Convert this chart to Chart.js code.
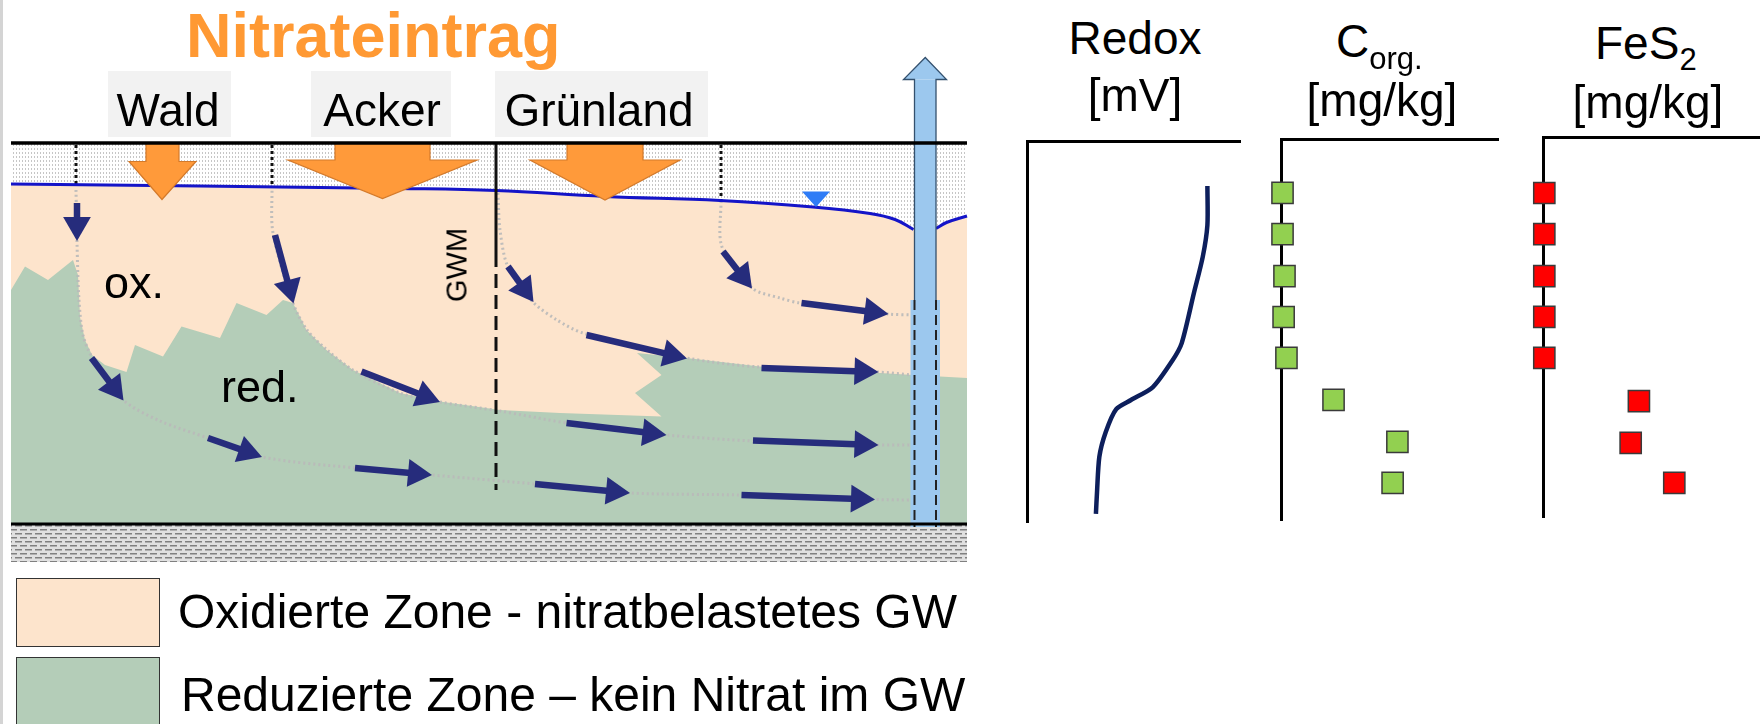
<!DOCTYPE html>
<html lang="de">
<head>
<meta charset="utf-8">
<title>Nitrateintrag – oxidierte und reduzierte Zone im Grundwasser</title>
<script src="https://cdn.jsdelivr.net/npm/chart.js@4.4.1/dist/chart.umd.min.js"></script>
<style>
  html, body { margin: 0; padding: 0; background: #fff; }
  body { width: 1760px; height: 724px; position: relative; overflow: hidden;
         font-family: 'Liberation Sans', Arial, sans-serif; color: #000; }
  canvas { position: absolute; }
  .txt { position: absolute; white-space: nowrap; line-height: 1; }
  .mitte { width: 300px; text-align: center; }
  .feld { position: absolute; background: #f2f2f2; }
  .leg { position: absolute; left: 16px; width: 144px; box-sizing: border-box; border: 1.5px solid #333; }
</style>
</head>
<body>
<div style="position:absolute;left:0;top:0;width:3px;height:724px;background:#d4d4d4"></div>

<canvas id="querschnitt" width="980" height="724" style="left:0;top:0"></canvas>
<canvas id="redox" width="260" height="420" style="left:1000px;top:120px"></canvas>
<canvas id="corg" width="270" height="420" style="left:1250px;top:118px"></canvas>
<canvas id="fes2" width="245" height="420" style="left:1515px;top:116px"></canvas>

<!-- Beschriftung -->
<div class="txt" style="left:186px;top:4px;font-size:63px;font-weight:bold;color:#ff9933">Nitrateintrag</div>
<div class="feld" style="left:108px;top:71px;width:123px;height:66px"></div>
<div class="feld" style="left:311px;top:71px;width:140px;height:66px"></div>
<div class="feld" style="left:495px;top:71px;width:213px;height:66px"></div>
<div class="txt mitte" style="left:18px;top:87px;font-size:46px">Wald</div>
<div class="txt mitte" style="left:232px;top:87px;font-size:46px">Acker</div>
<div class="txt mitte" style="left:449px;top:87px;font-size:46px">Grünland</div>
<div class="txt" style="left:104px;top:260px;font-size:45px">ox.</div>
<div class="txt" style="left:221px;top:364px;font-size:45px">red.</div>
<div class="txt" style="left:457px;top:265px;font-size:29px;transform:translate(-50%,-50%) rotate(-90deg)">GWM</div>

<div class="leg" style="top:578px;height:69px;background:#fde4cc"></div>
<div class="leg" style="top:657px;height:80px;background:#b4cdb8"></div>
<div class="txt" style="left:178px;top:588px;font-size:48px">Oxidierte Zone - nitratbelastetes GW</div>
<div class="txt" style="left:181px;top:671px;font-size:48px">Reduzierte Zone – kein Nitrat im GW</div>

<div class="txt mitte" style="left:985px;top:15px;font-size:46px">Redox</div>
<div class="txt mitte" style="left:985px;top:72px;font-size:46px">[mV]</div>
<div class="txt" style="left:1336px;top:18px;font-size:46px">C<span style="font-size:31px;position:relative;top:12px">org.</span></div>
<div class="txt mitte" style="left:1232px;top:77px;font-size:46px">[mg/kg]</div>
<div class="txt" style="left:1595px;top:20px;font-size:46px">FeS<span style="font-size:31px;position:relative;top:11px">2</span></div>
<div class="txt mitte" style="left:1498px;top:79px;font-size:46px">[mg/kg]</div>

<script>
// ---- Querschnitt: Lage in Profil-Einheiten (x nach rechts, y = Tiefe nach unten) ----
const profilX = [11, 967];
const gelaendeY = 143;
const sohleY = 524;
const sohleUnterkante = 562;

// Grundwasseroberfläche links und rechts vom Brunnen, Spiegelmarke
const gwSpiegelLinks = [[11, 184], [200, 186], [400, 188.5], [496, 190.5], [605, 196.5], [720, 200.5], [813, 207], [870, 213.5], [895, 219.5], [913.5, 229.5]];
const gwSpiegelRechts = [[936, 228.5], [946.5, 222.5], [967, 216]];
const gwMarke = [[802, 191.5], [816, 207], [830, 191.5]];

// Oberkante der reduzierten Zone (Grenze ox. / red.)
const redoxGrenze = [[11, 290], [25, 266.5], [48, 280], [73, 260], [78, 275], [80, 317], [85, 340], [92, 355], [105, 365],
  [126.5, 372], [135, 345], [163, 356.5], [181.5, 326.5], [220, 338], [236.5, 303], [266.5, 315], [283, 300], [293, 303],
  [306.5, 330], [326.5, 350], [353, 370], [400, 393], [440, 401.5], [500, 410], [560, 413], [661.5, 416.5], [635, 393],
  [661.5, 375], [637, 353], [686.5, 358], [760, 366.5], [880, 373], [913, 375], [967, 378]];

// Fließwege (gepunktet) je Nutzung
const fliessWald = [[76, 190], [77, 243], [79, 300], [83, 335], [92, 357], [105, 372], [123, 400], [160, 421], [208, 438], [262, 457], [355, 468], [432, 475], [535, 484], [630, 493], [741, 495], [875, 499.5], [913, 500]];
const fliessAcker = [[272, 186], [273, 233], [293, 303], [307, 330], [327, 350], [353, 370], [400, 393], [440, 402], [500, 411], [567, 423], [667, 435], [753, 441], [878, 445], [913, 445]];
const fliessGruen1 = [[498, 193], [500, 230], [508, 267], [533, 302], [557, 320], [583, 333], [687, 358], [760, 367], [878, 372], [913, 375]];
const fliessGruen2 = [[721, 201], [722, 247], [752, 288], [780, 298], [800, 303], [888, 314], [913, 315]];

// Sickerwege in der ungesättigten Zone
const sickerX = [76, 272, 721];
const sickerBis = [185, 187, 200];

// Grundwassermessstelle
const gwmX = 496;
const gwmRohrBis = 253;
const gwmFilterBis = 490;

// Fließpfeile: [x0, y0, xSpitze, ySpitze]
const fliessPfeile = [
  [77, 203, 77, 241], [91.5, 358, 123.5, 400.5], [208, 438, 262, 457], [355, 468, 432, 475], [535, 484, 630, 493], [741.5, 495, 875, 499.5],
  [275, 235, 293.5, 303.5], [361.5, 371.5, 440, 402], [566.5, 423, 666.5, 435], [753, 440.5, 878.5, 445],
  [508, 266.5, 533.5, 302], [586.5, 335, 687, 358.5], [761.5, 368, 878.5, 372],
  [723, 251.5, 752, 288.5], [801.5, 303, 888.5, 314]
];

// Nitrateintrag je Nutzung: Schaft, Kopfbreite, Kopfansatz, Spitze
const eintragSchaft = [[146, 179], [335, 430], [567, 643]];
const eintragKopf = [[129, 196], [288, 477], [530, 680]];
const eintragKopfY = [161.5, 160, 160];
const eintragSpitze = [[162, 199.5], [382.5, 198.5], [605, 200]];

// Förderbrunnen
const brunnenX = [914.5, 936];
const brunnenKopf = [903.5, 946.5];
const brunnenKopfY = [79.5, 57.5];
const brunnenFuss = 527;
const filterAb = 300;

// ---- Profile rechts (Tiefe 0 = Geländeoberkante, 100 = Sohle; Werte relativ) ----
const tiefeRedox = [11.8, 22.0, 30.4, 39.8, 52.9, 57.6, 64.5, 67.8, 70.2, 76.2, 82.7, 92.1, 97.6];
const redoxWert = [84.3, 84.3, 82.1, 78.0, 72.3, 67.8, 58.7, 48.6, 41.7, 36.8, 33.8, 32.7, 32.2];
const tiefeCorg = [14.1, 24.9, 35.9, 46.6, 57.3, 68.3, 79.3, 90.0];
const corgWert = [0.7, 0.7, 1.6, 1.2, 2.5, 24.1, 53.4, 51.2];
const tiefeFeS2 = [14.7, 25.5, 36.5, 47.2, 58.0, 69.3, 80.3, 90.8];
const fes2Wert = [0.6, 0.6, 0.6, 0.6, 0.6, 44.2, 40.4, 60.5];

Chart.defaults.font.family = "'Liberation Sans', Arial, sans-serif";

// Muster für ungesättigte Zone und Sohle
function muster(breite, hoehe, zeichnen) {
  const c = document.createElement('canvas');
  c.width = breite; c.height = hoehe;
  const g = c.getContext('2d');
  zeichnen(g);
  return g.createPattern(c, 'repeat');
}
const musterSand = muster(3, 4, (g) => {
  g.fillStyle = '#ffffff'; g.fillRect(0, 0, 3, 4);
  g.fillStyle = '#c6c6c6'; g.fillRect(1, 0, 1, 2);
});
const musterSohle = muster(10, 8, (g) => {
  g.fillStyle = '#e0e0e0'; g.fillRect(0, 0, 10, 8);
  g.fillStyle = '#808080'; g.fillRect(0, 1, 7, 1.5);
  g.fillRect(5, 5, 7, 1.5); g.fillRect(-5, 5, 7, 1.5);
});

const punkte = (liste) => liste.map(([x, y]) => ({ x, y }));
const ebenen = []; // von hinten nach vorne

function flaeche(liste, farbe) {
  ebenen.push({ data: punkte(liste), fill: 'shape', backgroundColor: farbe, borderWidth: 0, pointRadius: 0, tension: 0 });
}
function linie(liste, farbe, breite, strich, spannung) {
  ebenen.push({ data: punkte(liste), fill: false, borderColor: farbe, borderWidth: breite, borderDash: strich || [],
    borderCapStyle: 'butt', pointRadius: 0, tension: spannung || 0 });
}

const [xl, xr] = profilX;
flaeche([[xl, sohleY], [xl, gelaendeY], [xr, gelaendeY], [xr, sohleY]], musterSand);
flaeche([[xl, sohleY], ...gwSpiegelLinks, ...gwSpiegelRechts, [xr, sohleY]], '#fde4cc');
flaeche([[xl, sohleY], ...redoxGrenze, [xr, sohleY]], '#b4cdb8');
flaeche([[xl, sohleUnterkante], [xl, sohleY], [xr, sohleY], [xr, sohleUnterkante]], musterSohle);

[fliessWald, fliessAcker, fliessGruen1, fliessGruen2].forEach((weg) => linie(weg, 'rgba(185,185,185,0.9)', 3, [2, 3], 0.3));
sickerX.forEach((x, i) => linie([[x, gelaendeY + 2], [x, sickerBis[i]]], '#111', 3, [3, 3]));

linie(gwSpiegelLinks, '#1414c8', 3, null, 0.4);
linie(gwSpiegelRechts, '#1414c8', 3, null, 0.4);
flaeche(gwMarke, '#2f7cf6');

linie([[gwmX, gelaendeY], [gwmX, gwmRohrBis]], '#111', 3);
linie([[gwmX, gwmRohrBis], [gwmX, gwmFilterBis]], '#111', 3, [14, 7]);

eintragSchaft.forEach(([sl, sr], i) => {
  const ky = eintragKopfY[i];
  const [hl, hr] = eintragKopf[i];
  const spitze = eintragSpitze[i];
  flaeche([[sl, gelaendeY], [sl, ky + 1], [sr, ky + 1], [sr, gelaendeY]], '#ff9a3a');
  flaeche([[hl, ky], spitze, [hr, ky]], '#ff9a3a');
  linie([[sl, gelaendeY], [sl, ky], [hl, ky], spitze, [hr, ky], [sr, ky], [sr, gelaendeY]], '#d47a2a', 1.2);
});

// Fließpfeile: Schaft als Linie, Spitze als gedrehtes Dreieck
const kopfRadius = 16;
const kopfPunkte = [];
const kopfDrehung = [];
fliessPfeile.forEach(([x0, y0, x1, y1]) => {
  const dx = x1 - x0, dy = y1 - y0, len = Math.hypot(dx, dy);
  const mx = x1 - dx / len * kopfRadius, my = y1 - dy / len * kopfRadius;
  linie([[x0, y0], [mx, my]], '#262c7c', 6.5);
  kopfPunkte.push([mx, my]);
  kopfDrehung.push(Math.atan2(dx, -dy) * 180 / Math.PI);
});
ebenen.push({ data: punkte(kopfPunkte), showLine: false, pointStyle: 'triangle', pointRadius: kopfRadius,
  pointRotation: kopfDrehung, pointBackgroundColor: '#262c7c', pointBorderWidth: 0 });

// Brunnen
const [bl, br] = brunnenX;
const [kopfBasis, kopfSpitze] = brunnenKopfY;
flaeche([[bl - 4, brunnenFuss], [bl - 4, filterAb], [br + 4, filterAb], [br + 4, brunnenFuss]], '#9cc8ee');
flaeche([[bl, brunnenFuss], [bl, kopfBasis], [br, kopfBasis], [br, brunnenFuss]], '#9cc8ee');
flaeche([[brunnenKopf[0], kopfBasis], [(bl + br) / 2, kopfSpitze], [brunnenKopf[1], kopfBasis]], '#9cc8ee');
linie([[bl, filterAb], [bl, kopfBasis], [brunnenKopf[0], kopfBasis], [(bl + br) / 2, kopfSpitze],
  [brunnenKopf[1], kopfBasis], [br, kopfBasis], [br, filterAb]], '#34516e', 1.3);
linie([[bl, filterAb], [bl, brunnenFuss]], '#222', 2, [10, 5]);
linie([[br, filterAb], [br, brunnenFuss]], '#222', 2, [10, 5]);

linie([[xl, gelaendeY], [xr, gelaendeY]], '#000', 3.5);
linie([[xl, sohleY], [xr, sohleY]], '#000', 3);

ebenen.forEach((d, i) => { d.order = ebenen.length - i; });

new Chart(document.getElementById('querschnitt'), {
  type: 'line',
  data: { datasets: ebenen },
  options: {
    responsive: false,
    animation: false,
    events: [],
    layout: { padding: 0, autoPadding: false },
    plugins: { legend: { display: false }, tooltip: { enabled: false } },
    scales: {
      x: { type: 'linear', min: 0, max: 980, display: false },
      y: { type: 'linear', min: 0, max: 724, reverse: true, display: false }
    }
  }
});

// ---- Tiefenprofile ----
function achse(pos) {
  return {
    type: 'linear', position: pos, min: 0, max: 100, reverse: pos === 'left',
    ticks: { display: false },
    grid: { display: true, drawOnChartArea: false, drawTicks: false, lineWidth: 0 },
    border: { display: true, color: '#000', width: 3 },
    afterFit(s) { if (pos === 'left') s.width = 0; else s.height = 0; }
  };
}
function profil(id, datasets, padding) {
  return new Chart(document.getElementById(id), {
    type: 'line',
    data: { datasets },
    options: {
      responsive: false,
      animation: false,
      events: [],
      layout: { padding, autoPadding: false },
      plugins: { legend: { display: false }, tooltip: { enabled: false } },
      scales: { x: achse('top'), y: achse('left') }
    }
  });
}
const quadrate = (werte, tiefen, farbe) => ({
  data: werte.map((x, i) => ({ x, y: tiefen[i] })),
  showLine: false, clip: false, pointStyle: 'rect', pointRadius: 15,
  pointBackgroundColor: farbe, pointBorderColor: '#3a3a3a', pointBorderWidth: 1.5
});

profil('redox', [{
  data: redoxWert.map((x, i) => ({ x, y: tiefeRedox[i] })),
  borderColor: '#0d1f5c', borderWidth: 4.5, pointRadius: 0, tension: 0.25, fill: false
}], { left: 27, top: 21, right: 19, bottom: 17 });

profil('corg', [quadrate(corgWert, tiefeCorg, '#92d050')], { left: 31, top: 21, right: 21, bottom: 17 });
profil('fes2', [quadrate(fes2Wert, tiefeFeS2, '#ff0000')], { left: 28, top: 21, right: 0, bottom: 18 });
</script>
</body>
</html>
